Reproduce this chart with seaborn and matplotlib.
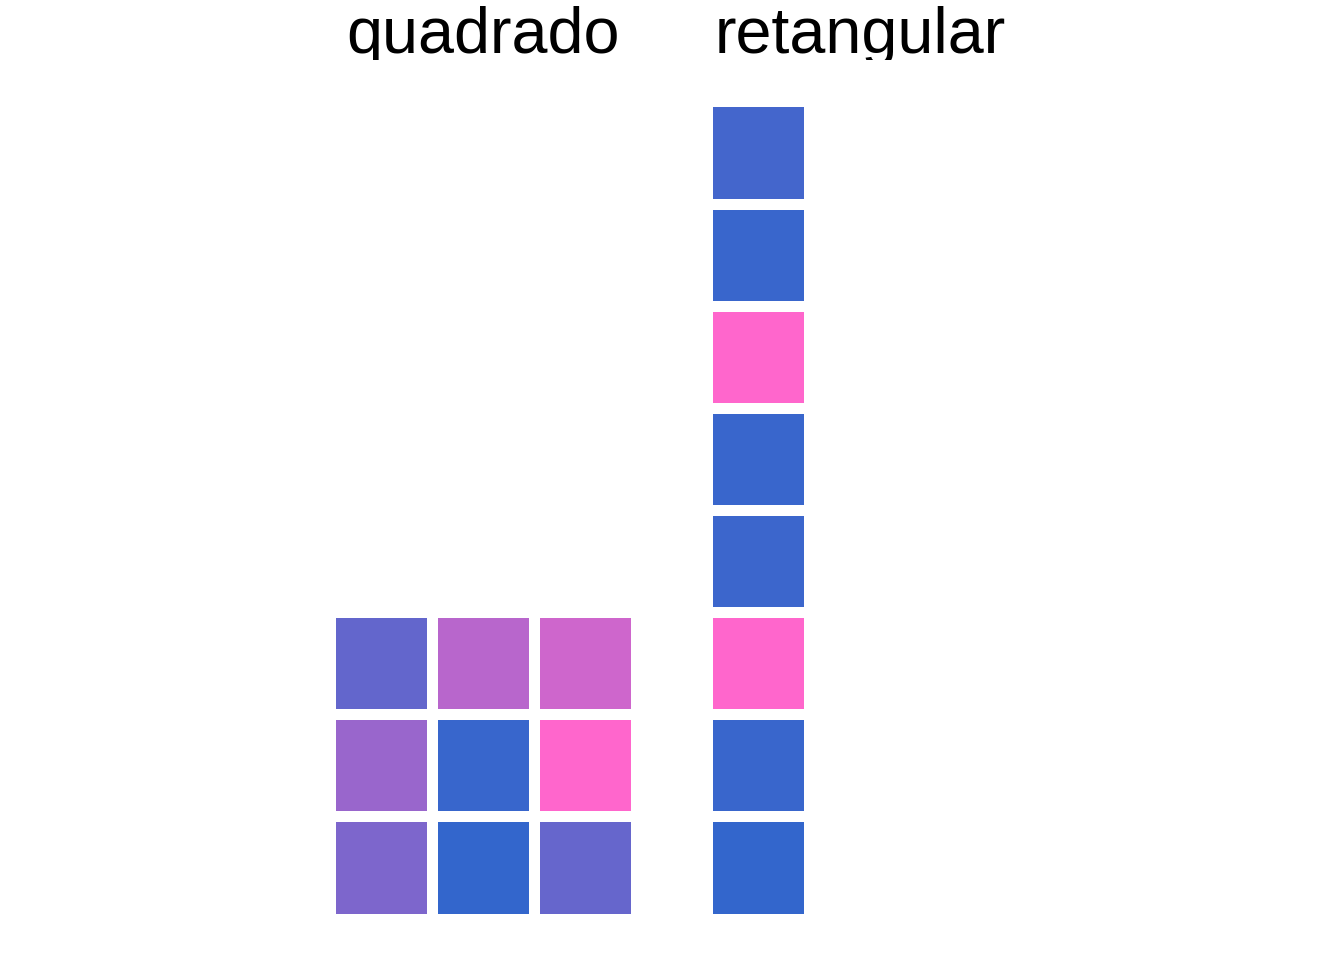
import pandas as pd
import numpy as np
import seaborn as sns
import matplotlib.pyplot as plt
from matplotlib.colors import LinearSegmentedColormap

# facet titles
facets = ["quadrado", "retangular"]

# tile positions (col, row from bottom) and fill values (0 = blue, 1 = pink)
quad_col = [1, 2, 3, 1, 2, 3, 1, 2, 3]
quad_row = [3, 3, 3, 2, 2, 2, 1, 1, 1]
quad_val = [0.235, 0.652, 0.76, 0.5, 0.025, 1.0, 0.363, 0.0, 0.25]

ret_col = [1, 1, 1, 1, 1, 1, 1, 1]
ret_row = [8, 7, 6, 5, 4, 3, 2, 1]
ret_val = [0.083, 0.034, 1.0, 0.034, 0.044, 1.0, 0.034, 0.0]

df = pd.concat([
    pd.DataFrame({"facet": "quadrado", "col": quad_col, "row": quad_row, "val": quad_val}),
    pd.DataFrame({"facet": "retangular", "col": ret_col, "row": ret_row, "val": ret_val}),
])

sns.set_theme(style="white")
plt.rcParams['font.family'] = ['Liberation Sans', 'DejaVu Sans']

cmap = LinearSegmentedColormap.from_list("azulrosa", ["#3366CC", "#FF66CC"])

W, H = 1344, 960
fig = plt.figure(figsize=(W / 100, H / 100), dpi=100)
fig.patch.set_facecolor("white")

lefts = [329.5, 706.5]
pw = 306
top_px, bot_px = 101.4, 918.6

for f, lx in zip(facets, lefts):
    ax = fig.add_axes([lx / W, 1 - bot_px / H, pw / W, (bot_px - top_px) / H])
    sub = df[df["facet"] == f]
    grid = sub.pivot(index="row", columns="col", values="val")
    grid = grid.reindex(index=range(8, 0, -1), columns=range(1, 4))
    sns.heatmap(grid, ax=ax, cmap=cmap, vmin=0, vmax=1, cbar=False,
                linewidths=7.9, linecolor="white")
    ax.set_xlim(0, 3)
    ax.set_ylim(8, 0)
    ax.set_axis_off()

    # strip title, clipped at the top like the original
    sax = fig.add_axes([(lx + 0.5) / W, 1 - 60 / H, pw / W, 60 / H])
    sax.set_axis_off()
    sax.text(0.5, 7 / 60, f, ha="center", va="baseline", fontsize=46.5,
             color="black", clip_on=True, transform=sax.transAxes)

fig.savefig("out.png", dpi=100, facecolor="white")
